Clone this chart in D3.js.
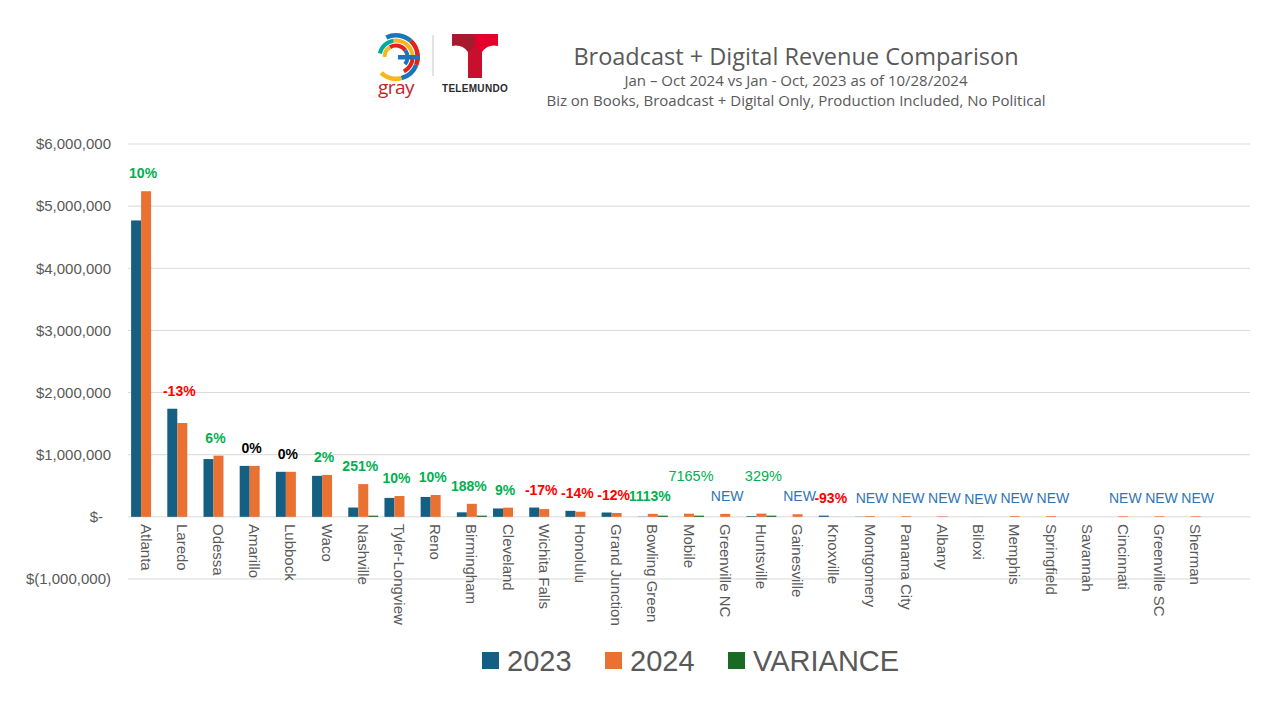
<!DOCTYPE html>
<html>
<head>
<meta charset="utf-8">
<script src="https://cdn.jsdelivr.net/npm/d3@7/dist/d3.min.js"></script>
<style>
  html, body { margin: 0; padding: 0; background: #fff; }
  svg { display: block; font-family: "Liberation Sans", Arial, sans-serif; }
</style>
</head>
<body>
<svg id="chart" width="1280" height="720"></svg>
<script>
// ---------------- DATA ----------------
const categories = ["Atlanta","Laredo","Odessa","Amarillo","Lubbock","Waco","Nashville","Tyler-Longview","Reno","Birmingham","Cleveland","Wichita Falls","Honolulu","Grand Junction","Bowling Green","Mobile","Greenville NC","Huntsville","Gainesville","Knoxville","Montgomery","Panama City","Albany","Biloxi","Memphis","Springfield","Savannah","Cincinnati","Greenville SC","Sherman"];
const rev2023 = [4770000,1740000,930000,820000,725000,660000,150000,305000,320000,73000,135000,150000,97000,70000,4000,700,0,12100,0,20000,3000,0,0,0,0,0,0,0,0,0];
const rev2024 = [5240000,1510000,985000,820000,725000,675000,527000,335000,352000,210000,148000,125000,83000,62000,48500,51000,48000,52000,42000,1400,12000,10000,9000,1500,12000,11000,0,10000,10000,10000];
const variance = [0.10,-0.13,0.06,0,0,0.02,2.51,0.10,0.10,1.88,0.09,-0.17,-0.14,-0.12,11.13,71.65,null,3.29,null,-0.93,null,null,null,null,null,null,null,null,null,null];
const seriesNames = ["2023","2024","VARIANCE"];
const yTicks = [-1000000,0,1000000,2000000,3000000,4000000,5000000,6000000];
const titleText = "Broadcast + Digital Revenue Comparison";
const subtitle1 = "Jan \u2013 Oct 2024 vs Jan - Oct, 2023 as of 10/28/2024";
const subtitle2 = "Biz on Books, Broadcast + Digital Only, Production Included, No Political";

// ---------------- STYLE ----------------
const colors = {"2023":"#156082","2024":"#E97132","VARIANCE":"#196B24"};
const textGray = "#595959";
const gridColor = "#D9D9D9";
const plainLabels = new Set(["Mobile","Huntsville"]);

const svg = d3.select("#chart");

// ---------------- SCALES ----------------
const plot = {left:128, right:1250, top:144, bottom:579};
const y = d3.scaleLinear().domain([-1000000, 6000000]).range([plot.bottom, plot.top]);
// one trailing empty slot, as in the source worksheet
const x = d3.scaleBand().domain([...categories, "__blank__"]).range([plot.left, plot.right]).paddingInner(0).paddingOuter(0);
const xs = d3.scaleBand().domain(seriesNames).range([0, x.step()]).paddingInner(0).paddingOuter(0.31);

// ---------------- GRID ----------------
svg.append("g").selectAll("line").data(yTicks).join("line")
  .attr("x1", plot.left).attr("x2", plot.right)
  .attr("y1", d => y(d)).attr("y2", d => y(d))
  .attr("stroke", gridColor).attr("stroke-width", 1);

// ---------------- Y AXIS ----------------
const fmt = d3.format(",");
const yAxis = d3.axisLeft(y).tickValues(yTicks).tickSize(0).tickPadding(0)
  .tickFormat(d => d === 0 ? "$-" : d < 0 ? "$(" + fmt(-d) + ")" : "$" + fmt(d));
const gy = svg.append("g").attr("transform", "translate(111,0)").call(yAxis);
gy.select(".domain").remove();
gy.selectAll("text").attr("fill", textGray).style("font-size", "15px").style("font-family", "'Liberation Sans', Arial, sans-serif");
gy.selectAll(".tick").filter(d => d === 0).select("text").attr("dx", "-8");

// ---------------- BARS ----------------
const rows = categories.map((c, i) => ({cat: c, v: [rev2023[i], rev2024[i], variance[i]]}));
const bars = svg.append("g");
rows.forEach(r => {
  seriesNames.forEach((s, k) => {
    const v = r.v[k];
    if (v === null || v === 0) return;
    let y0 = y(0), y1 = y(v);
    let h = Math.abs(y1 - y0);
    if (s === "VARIANCE" && Math.abs(v) >= 1) h = Math.max(h, 1.2);
    bars.append("rect")
      .attr("x", x(r.cat) + xs(s))
      .attr("width", xs.bandwidth())
      .attr("y", v >= 0 ? y0 - h : y0)
      .attr("height", h)
      .attr("fill", colors[s]);
  });
});

// ---------------- X LABELS ----------------
svg.append("g").selectAll("text").data(categories).join("text")
  .attr("transform", d => `translate(${x(d) + x.step()/2},524) rotate(90)`)
  .attr("dy", "0.36em")
  .attr("text-anchor", "start")
  .attr("fill", textGray)
  .style("font-size", "15px")
  .text(d => d);

// ---------------- VARIANCE LABELS ----------------
const pct = v => d3.format(".0%")(v).replace("\u2212", "-");
const labelData = rows.map((r, i) => {
  const v = variance[i];
  let text, color, weight = "bold", size = 14, dx = -3;
  if (v === null) {
    if (!rev2024[i]) return null;
    text = "NEW"; color = "#2E75B6"; weight = "normal"; size = 14; dx = 2;
  } else {
    text = pct(v);
    color = v > 0 ? "#00B050" : v < 0 ? "#FF0000" : "#000000";
  }
  let lift = 13;
  if (plainLabels.has(r.cat)) { weight = "normal"; size = 14.5; lift = 33; dx = 2; }
  const top = y(Math.max(rev2023[i], rev2024[i]));
  return {cat: r.cat, text, color, weight, size, lift, top, dx};
}).filter(d => d);

svg.append("g").selectAll("text").data(labelData).join("text")
  .attr("x", d => x(d.cat) + x.step()/2 + d.dx)
  .attr("y", d => d.top - d.lift)
  .attr("text-anchor", "middle")
  .attr("fill", d => d.color)
  .style("font-weight", d => d.weight)
  .style("font-size", d => d.size + "px")
  .text(d => d.text);

// ---------------- TITLE ----------------
const tx = 796;
svg.append("text").attr("x", tx).attr("y", 65).attr("text-anchor", "middle")
  .attr("fill", textGray).style("font-size", "23.5px").style("font-family", "'Open Sans', sans-serif").text(titleText);
svg.append("text").attr("x", tx).attr("y", 86).attr("text-anchor", "middle")
  .attr("fill", textGray).style("font-size", "15px").style("font-family", "'Open Sans', sans-serif").text(subtitle1);
svg.append("text").attr("x", tx).attr("y", 106).attr("text-anchor", "middle")
  .attr("fill", textGray).style("font-size", "15px").style("font-family", "'Open Sans', sans-serif").text(subtitle2);

// ---------------- LOGOS ----------------
const logo = svg.append("g");
const arc = d3.arc();
const gc = [396, 57];
const rings = [
  {r0: 19.5, r1: 24, segs: [[-1.2, -0.25, "#1B75BB"], [-0.25, 0.75, "#F7B718"], [-2.4, -1.2, "#E2231A"], [-3.6, -2.4, "#1B75BB"]]},
  {r0: 14.5, r1: 18.5, segs: [[-3.3, -1.6, "#F7B718"], [-1.6, -0.5, "#E2231A"], [-4.5, -3.3, "#00A99D"]]},
  {r0: 9.5, r1: 13.5, segs: [[-3.7, -2.2, "#E2231A"], [-2.2, -0.9, "#1B75BB"], [-4.7, -3.7, "#F7B718"]]}
];
rings.forEach(rg => rg.segs.forEach(s => {
  logo.append("path")
    .attr("transform", `translate(${gc[0]},${gc[1]})`)
    .attr("d", arc({innerRadius: rg.r0, outerRadius: rg.r1, startAngle: s[0] + Math.PI, endAngle: s[1] + Math.PI}))
    .attr("fill", s[2]);
}));
logo.append("rect").attr("x", gc[0] + 2).attr("y", gc[1] - 2).attr("width", 22).attr("height", 4.5).attr("fill", "#1B75BB");
logo.append("text").attr("x", 396).attr("y", 94).attr("text-anchor", "middle")
  .attr("fill", "#C8202F").style("font-size", "19px").style("font-family", "'Open Sans', sans-serif").style("letter-spacing", "-0.5px").text("gray");
logo.append("line").attr("x1", 433).attr("x2", 433).attr("y1", 35).attr("y2", 76).attr("stroke", "#C8C8C8").attr("stroke-width", 1);
// Telemundo T
logo.append("path").attr("d", "M452,34 L475,34 L475,78 L468,78 L468,52 Q462,44 452,46 Z").attr("fill", "#A6192E");
logo.append("path").attr("d", "M475,34 L498,34 L498,46 Q488,44 482,52 L482,78 L475,78 Z").attr("fill", "#E4002B");
logo.append("path").attr("d", "M468,52 Q475,44 482,52 L482,78 L468,78 Z").attr("fill", "#C8102E");
logo.append("text").attr("x", 475).attr("y", 92).attr("text-anchor", "middle")
  .attr("fill", "#2B2B2B").style("font-size", "10px").style("font-weight", "bold").style("letter-spacing", "0.3px").text("TELEMUNDO");

// ---------------- LEGEND ----------------
const legendX = [482, 605, 728];
const legend = svg.append("g");
seriesNames.forEach((s, i) => {
  legend.append("rect").attr("x", legendX[i]).attr("y", 652).attr("width", 17).attr("height", 17).attr("fill", colors[s]);
  legend.append("text").attr("x", legendX[i] + 25).attr("y", 671).attr("fill", textGray)
    .style("font-size", "29px").text(s);
});
</script>
</body>
</html>
